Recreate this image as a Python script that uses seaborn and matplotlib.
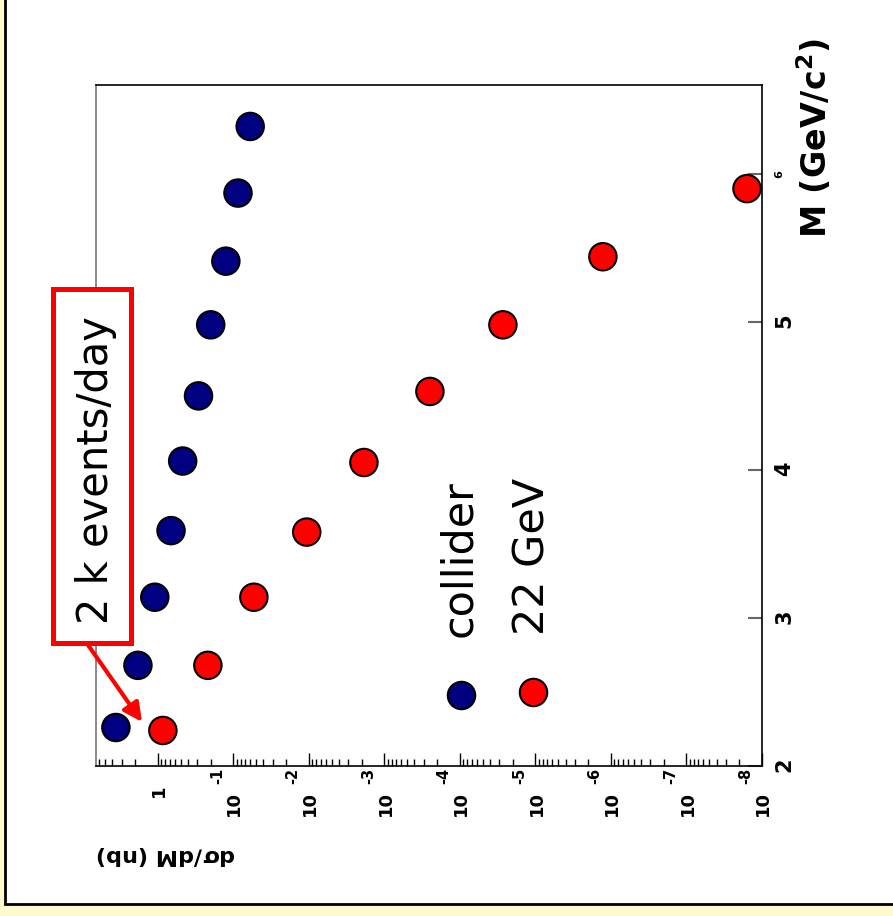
import matplotlib
matplotlib.use("Agg")
import matplotlib.pyplot as plt
import matplotlib.transforms as mtransforms
from matplotlib.patches import Rectangle
from matplotlib.ticker import FixedLocator, LogLocator, NullFormatter
import numpy as np
import pandas as pd
import seaborn as sns

mass_collider = [2.26, 2.68, 3.14, 3.59, 4.06, 4.50, 4.98, 5.41, 5.87, 6.32]
xsec_collider = [3.6, 1.84, 1.1, 0.67, 0.47, 0.29, 0.20, 0.126, 0.087, 0.060]
mass_22gev = [2.24, 2.68, 3.14, 3.58, 4.05, 4.53, 4.98, 5.44, 5.90]
xsec_22gev = [0.86, 0.218, 0.0536, 0.0107, 1.87e-3, 2.5e-4, 2.7e-5, 1.28e-6, 1.58e-8]
series_names = ["collider", "22 GeV"]
series_colors = ["#000080", "#FF0000"]
decades = [0, -1, -2, -3, -4, -5, -6, -7, -8]
mass_ticks = [2, 3, 4, 5, 6]

sns.set_theme(style="ticks")
plt.rcParams["font.family"] = ["DejaVu Sans"]
plt.rcParams["mathtext.fontset"] = "dejavusans"
plt.rcParams["text.color"] = "black"
plt.rcParams["xtick.color"] = "black"
plt.rcParams["ytick.color"] = "black"

df = pd.DataFrame({
    "mass": mass_collider + mass_22gev,
    "xsec": xsec_collider + xsec_22gev,
    "series": [series_names[0]] * len(mass_collider) + [series_names[1]] * len(mass_22gev),
})

fig = plt.figure(figsize=(8.93, 9.16), dpi=100)
fig.patch.set_facecolor("#FFFACD")
fig.patches.append(Rectangle((5 / 893, 12 / 916), 1.2, 1.2, transform=fig.transFigure,
                             facecolor="white", edgecolor="black", lw=2, zorder=-1))

ax = fig.add_axes([96 / 893, 150 / 916, 666 / 893, 681 / 916])
ax.set_facecolor("white")
ax.set_xscale("log")

sns.scatterplot(data=df, x="xsec", y="mass", hue="series",
                palette=dict(zip(series_names, series_colors)),
                s=390, edgecolor="black", linewidth=1.5, legend=False, ax=ax, zorder=3)

# inverted log axis: big cross sections on the left
ax.set_xlim(10 ** 0.82, 1e-8)
ax.set_ylim(2, 6.6)
ax.set_xlabel("")
ax.set_ylabel("")

for side in ["top", "right", "bottom"]:
    ax.spines[side].set_color("black")
    ax.spines[side].set_linewidth(1.2)
ax.spines["left"].set_color("#777777")
ax.spines["left"].set_linewidth(1.2)

# x axis (cross section), labels placed by hand to get the rotated look
ax.xaxis.set_major_locator(FixedLocator([10.0 ** d for d in decades]))
ax.xaxis.set_minor_locator(LogLocator(base=10, subs=np.arange(2, 10), numticks=100))
ax.xaxis.set_major_formatter(NullFormatter())
ax.xaxis.set_minor_formatter(NullFormatter())
ax.tick_params(axis="x", which="major", direction="in", length=9.5, width=1, color="black")
ax.tick_params(axis="x", which="minor", direction="in", length=5, width=1, color="black")

blend = mtransforms.blended_transform_factory(ax.transData, ax.transAxes)


def shifted(dx, dy):
    return blend + mtransforms.ScaledTranslation(dx / 100, -dy / 100, fig.dpi_scale_trans)


for d in decades:
    if d == 0:
        ax.text(10.0 ** d, 0, "1", transform=shifted(1, 25), rotation=90,
                ha="center", va="center", fontsize=13, fontweight="bold", clip_on=False)
    else:
        ax.text(10.0 ** d, 0, "10", transform=shifted(1, 37), rotation=90,
                ha="center", va="center", fontsize=13, fontweight="bold", clip_on=False)
        ax.text(10.0 ** d, 0, str(d), transform=shifted(-16, 10), rotation=90,
                ha="center", va="center", fontsize=10.5, fontweight="bold", clip_on=False)

# y axis (mass) on the right
ax.yaxis.tick_right()
ax.yaxis.set_major_locator(FixedLocator(mass_ticks))
ax.set_yticklabels([str(m) for m in mass_ticks], rotation=90, fontweight="bold")
ax.tick_params(axis="y", which="major", direction="in", length=10, width=1.5,
               color="#666666", labelsize=15, pad=9)
ax.get_yticklabels()[-1].set_fontsize(8)
ax.tick_params(axis="y", which="minor", length=0)

# axis titles
fig.text(815 / 893, 1 - 138 / 916, r"M (GeV/c$^{\mathbf{2}}$)", rotation=90,
         ha="center", va="center", fontsize=24, fontweight="bold")
fig.text(166 / 893, 1 - 855 / 916, r"d$\mathbf{\sigma}$/dM (nb)", rotation=180,
         ha="center", va="center", fontsize=16, fontweight="bold")

# hand-made legend
leg_pos = [(0.548, 0.104, 0.545), (0.656, 0.108, 0.655)]
for name, col, (mx, my, tx) in zip(series_names, series_colors, leg_pos):
    ax.scatter([mx], [my], s=390, color=col, edgecolor="black", linewidth=1.5,
               transform=ax.transAxes, zorder=3)
    ax.text(tx, my + 0.085, name, transform=ax.transAxes, rotation=90,
            rotation_mode="anchor", ha="left", va="center", fontsize=31)

# annotation box with arrow
ax.add_patch(Rectangle((-0.0646, 0.1806), 0.1172, 0.5198, transform=ax.transAxes,
                       facecolor="white", edgecolor="#FF0000", lw=3.6, clip_on=False, zorder=4))
ax.text(0.0, 0.4347, "2 k events/day", transform=ax.transAxes, rotation=90,
        rotation_mode="anchor", ha="center", va="center", fontsize=30, zorder=5)
ax.annotate("", xy=(0.0691, 0.0646), xytext=(-0.012, 0.1777),
            xycoords="axes fraction", textcoords="axes fraction",
            arrowprops=dict(arrowstyle="-|>", color="#FF0000", lw=3, mutation_scale=28,
                            shrinkA=0, shrinkB=0),
            annotation_clip=False, zorder=4)

fig.savefig("out.png", dpi=100, facecolor=fig.get_facecolor())
